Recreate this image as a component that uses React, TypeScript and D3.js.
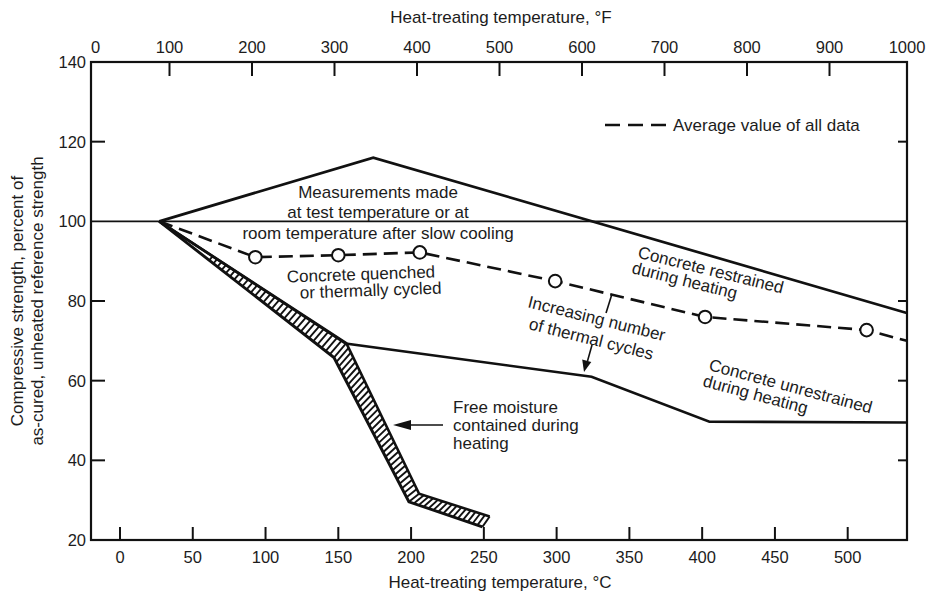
import React from 'react';
import * as d3 from 'd3';

// ---------- data ----------
const fTicks = [0, 100, 200, 300, 400, 500, 600, 700, 800, 900, 1000];
const cTicks = [0, 50, 100, 150, 200, 250, 300, 350, 400, 450, 500];
const yTicks = [20, 40, 60, 80, 100, 120, 140];
const innerYTicks = [40, 60, 80, 120];

// temperatures in °C, strength in percent
const restrainedC = [27, 174, 540.6];
const restrainedV = [100, 116, 77];

const averageC = [27, 93, 150, 206, 299, 402, 513, 540.6];
const averageV = [100, 91, 91.5, 92.2, 85, 76, 72.7, 70];

const unrestrainedC = [27, 155, 324, 405, 540.6];
const unrestrainedV = [100, 69.3, 61, 49.7, 49.5];

const moistureUpperC = [27, 155.5, 205.5, 254];
const moistureUpperV = [100, 69.4, 31.6, 25.9];
const moistureLowerC = [27, 147, 198.5, 249];
const moistureLowerV = [100, 65.8, 29.6, 23.3];

// ---------- layout ----------
const W = 932;
const H = 597;
const L = 91, R = 907, T = 62, B = 540;
const FONT = '"Liberation Sans", Arial, sans-serif';
const INK = '#111';
const TXT = '#1c1c1c';

export default function App() {
  const xC = d3.scaleLinear().domain([0, 500]).range([120, 847.7]);
  const xF = d3.scaleLinear().domain([0, 1000]).range([87, 912]);
  const y = d3.scaleLinear().domain([20, 140]).range([B, T]);

  const line = d3
    .line<[number, number]>()
    .x((d) => xC(d[0]))
    .y((d) => y(d[1]));

  const zip = (a: number[], b: number[]) => a.map((v, i) => [v, b[i]] as [number, number]);

  const restrained = zip(restrainedC, restrainedV);
  const average = zip(averageC, averageV);
  const unrestrained = zip(unrestrainedC, unrestrainedV);
  const upper = zip(moistureUpperC, moistureUpperV);
  const lower = zip(moistureLowerC, moistureLowerV);

  // hatch rungs between the two edges of the band
  const hatches: { x1: number; y1: number; x2: number; y2: number }[] = [];
  const spacing = 5.3;
  for (let i = 0; i < upper.length - 1; i++) {
    const u0 = [xC(upper[i][0]), y(upper[i][1])];
    const u1 = [xC(upper[i + 1][0]), y(upper[i + 1][1])];
    const l0 = [xC(lower[i][0]), y(lower[i][1])];
    const l1 = [xC(lower[i + 1][0]), y(lower[i + 1][1])];
    const len = Math.max(Math.hypot(u1[0] - u0[0], u1[1] - u0[1]), Math.hypot(l1[0] - l0[0], l1[1] - l0[1]));
    const n = Math.round(len / spacing);
    for (let k = 0; k < n; k++) {
      const f = k / n;
      const ux = u0[0] + (u1[0] - u0[0]) * f;
      const uy = u0[1] + (u1[1] - u0[1]) * f;
      const lx = l0[0] + (l1[0] - l0[0]) * f;
      const ly = l0[1] + (l1[1] - l0[1]) * f;
      if (Math.hypot(ux - lx, uy - ly) > 5) hatches.push({ x1: ux, y1: uy, x2: lx, y2: ly });
    }
  }
  const uEnd = upper[upper.length - 1];
  const lEnd = lower[lower.length - 1];

  const tickLabelStyle = { fontFamily: FONT, fontSize: 16.5, fill: TXT } as const;
  const annStyle = { fontFamily: FONT, fontSize: 17, fill: TXT } as const;

  return (
    <svg width={W} height={H} style={{ position: 'absolute', left: 0, top: 0, background: '#fff' }}>
      <rect x={0} y={0} width={W} height={H} fill="#fff" />

      {/* top axis title */}
      <text x={501} y={23} textAnchor="middle" style={annStyle}>
        Heat-treating temperature, °F
      </text>
      {fTicks.map((t) => {
        const xx = Math.min(R, Math.max(L, xF(t)));
        const lx = t === 0 ? L + 4.5 : xx;
        return (
          <g key={'f' + t}>
            {t > 0 && t < 1000 && <line x1={xx} x2={xx} y1={T} y2={T + 14} stroke={INK} strokeWidth={2} />}
            <text x={lx} y={53} textAnchor="middle" style={tickLabelStyle}>
              {t}
            </text>
          </g>
        );
      })}

      {/* bottom axis */}
      {cTicks.map((t) => (
        <g key={'c' + t}>
          <line x1={xC(t)} x2={xC(t)} y1={B} y2={B - 13} stroke={INK} strokeWidth={2} />
          <text x={xC(t)} y={563} textAnchor="middle" style={tickLabelStyle}>
            {t}
          </text>
        </g>
      ))}
      <text x={500} y={588} textAnchor="middle" style={annStyle}>
        Heat-treating temperature, °C
      </text>

      {/* left axis */}
      {yTicks.map((t) => (
        <text key={'y' + t} x={86} y={y(t)} dy="0.36em" textAnchor="end" style={tickLabelStyle}>
          {t}
        </text>
      ))}
      {innerYTicks.map((t) => (
        <g key={'yt' + t}>
          <line x1={L} x2={L + 14} y1={y(t)} y2={y(t)} stroke={INK} strokeWidth={2} />
          <line x1={R} x2={R - 9} y1={y(t)} y2={y(t)} stroke={INK} strokeWidth={2} />
        </g>
      ))}
      <g transform={`translate(23, ${(T + B) / 2}) rotate(-90)`}>
        <text x={0} y={0} textAnchor="middle" style={annStyle}>
          Compressive strength, percent of
        </text>
      </g>
      <g transform={`translate(43, ${(T + B) / 2}) rotate(-90)`}>
        <text x={0} y={0} textAnchor="middle" style={annStyle}>
          as-cured, unheated reference strength
        </text>
      </g>

      {/* reference line at 100 */}
      <line x1={L} x2={R} y1={y(100)} y2={y(100)} stroke={INK} strokeWidth={1.6} />

      {/* frame */}
      <rect x={L} y={T} width={R - L} height={B - T} fill="none" stroke={INK} strokeWidth={2.2} />

      {/* restrained */}
      <path d={line(restrained) || ''} fill="none" stroke={INK} strokeWidth={2.7} strokeLinejoin="miter" />
      {/* unrestrained */}
      <path d={line(unrestrained) || ''} fill="none" stroke={INK} strokeWidth={2.6} />

      {/* free moisture band */}
      {hatches.map((h, i) => (
        <line key={'h' + i} x1={h.x1} y1={h.y1} x2={h.x2} y2={h.y2} stroke={INK} strokeWidth={1.9} />
      ))}
      <path d={line(upper) || ''} fill="none" stroke={INK} strokeWidth={2.6} />
      <path d={line(lower) || ''} fill="none" stroke={INK} strokeWidth={2.9} />
      <line x1={xC(uEnd[0])} y1={y(uEnd[1])} x2={xC(lEnd[0])} y2={y(lEnd[1])} stroke={INK} strokeWidth={1.9} />

      {/* average of all data */}
      <path d={line(average) || ''} fill="none" stroke={INK} strokeWidth={2.6} strokeDasharray="14 7" />
      {average.slice(1, -1).map((d, i) => (
        <circle key={'m' + i} cx={xC(d[0])} cy={y(d[1])} r={6.3} fill="#fff" stroke={INK} strokeWidth={2} />
      ))}

      {/* legend */}
      <line x1={605} x2={667} y1={125} y2={125} stroke={INK} strokeWidth={2.6} strokeDasharray="15 8" />
      <text x={673} y={131} style={annStyle}>
        Average value of all data
      </text>

      {/* annotations */}
      <text x={378} y={198} textAnchor="middle" style={annStyle}>Measurements made</text>
      <text x={378} y={218} textAnchor="middle" style={annStyle}>at test temperature or at</text>
      <text x={378} y={239} textAnchor="middle" style={annStyle}>room temperature after slow cooling</text>

      <text x={287} y={282.5} transform="rotate(-2 287 282.5)" style={annStyle}>Concrete quenched</text>
      <text x={300} y={298.5} transform="rotate(-2 300 298.5)" style={annStyle}>or thermally cycled</text>

      <text x={637} y={257.5} transform="rotate(14 637 257.5)" style={annStyle}>Concrete restrained</text>
      <text x={631} y={273} transform="rotate(14 631 273)" style={annStyle}>during heating</text>

      <text x={527} y={307} transform="rotate(14 527 307)" style={annStyle}>Increasing number</text>
      <text x={528} y={329} transform="rotate(14 528 329)" style={annStyle}>of thermal cycles</text>
      <line x1={612} y1={294} x2={606} y2={313} stroke={INK} strokeWidth={1.6} />
      <line x1={592} y1={345} x2={587.5} y2={361} stroke={INK} strokeWidth={1.6} />
      <path d="M584,372 L582.2,359.5 L591.3,362 Z" fill={INK} />

      <text x={708} y={370} transform="rotate(15 708 370)" style={annStyle}>Concrete unrestrained</text>
      <text x={702} y={386} transform="rotate(15 702 386)" style={annStyle}>during heating</text>

      <text x={453} y={413} style={annStyle}>Free moisture</text>
      <text x={453} y={431} style={annStyle}>contained during</text>
      <text x={453} y={449} style={annStyle}>heating</text>
      <line x1={443} y1={425} x2={405} y2={425} stroke={INK} strokeWidth={1.6} />
      <path d="M393,425 L411,420 L411,430 Z" fill={INK} />
    </svg>
  );
}
